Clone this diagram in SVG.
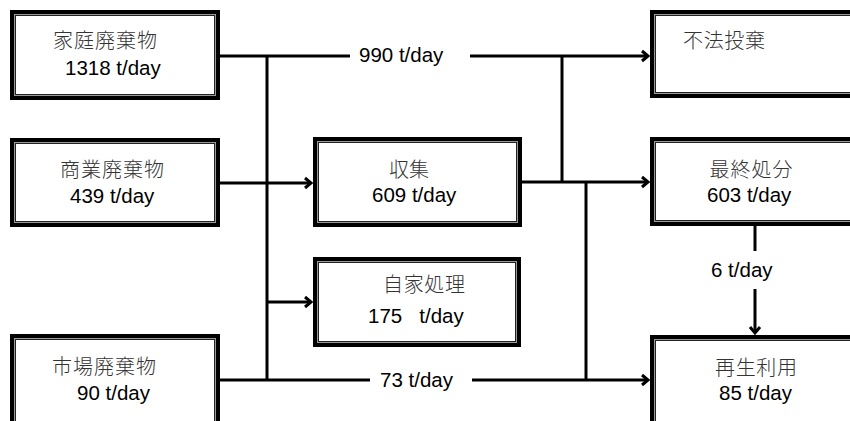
<svg xmlns="http://www.w3.org/2000/svg" width="850" height="421" viewBox="0 0 850 421">
<style>
.outer{fill:#fff;stroke:#000;stroke-width:4}
.inner{fill:none;stroke:#222;stroke-width:1}
.gap{fill:none;stroke:#999;stroke-width:1}
.cjk{font-family:"Noto Sans CJK JP","Noto Sans CJK SC",sans-serif;font-size:20px;fill:#333;font-weight:300}
.num{font-family:"Liberation Sans",Arial,sans-serif;font-size:20.5px;fill:#000}
.ln{fill:none;stroke:#000;stroke-width:3}
</style>
<defs>
<marker id="ah" markerUnits="userSpaceOnUse" markerWidth="14" markerHeight="14" refX="10" refY="6" orient="auto" overflow="visible">
<path d="M4,1 L10,6 L4,11" fill="none" stroke="#000" stroke-width="3" stroke-linejoin="miter"/>
</marker>
</defs>
<g id="connectors">
<path class="ln" d="M220,56 H350"/>
<path class="ln" d="M470,56 H648" marker-end="url(#ah)"/>
<path class="ln" d="M267,56 V380"/>
<path class="ln" d="M220,183 H311" marker-end="url(#ah)"/>
<path class="ln" d="M267,302 H311" marker-end="url(#ah)"/>
<path class="ln" d="M220,380 H370"/>
<path class="ln" d="M472,380 H648" marker-end="url(#ah)"/>
<path class="ln" d="M522,182 H648" marker-end="url(#ah)"/>
<path class="ln" d="M562,56 V182"/>
<path class="ln" d="M586,182 V380"/>
<path class="ln" d="M755,226 V251"/>
<path class="ln" d="M755,289 V333" marker-end="url(#ah)"/>
<text class="num" x="359" y="62">990 t/day</text>
<text class="num" x="380" y="387">73 t/day</text>
<text class="num" x="711" y="277">6 t/day</text>
</g>
<g id="household">
<rect class="outer" x="12" y="12" width="206" height="86"/>
<rect class="gap" x="14.5" y="14.5" width="201" height="81"/>
<rect class="inner" x="15.5" y="15.5" width="199" height="79"/>
<text class="cjk" x="105" y="48" text-anchor="middle" textLength="104">家庭廃棄物</text>
<text class="num" x="65" y="75">1318 t/day</text>
</g>
<g id="commercial">
<rect class="outer" x="12" y="140" width="206" height="85"/>
<rect class="gap" x="14.5" y="142.5" width="201" height="80"/>
<rect class="inner" x="15.5" y="143.5" width="199" height="78"/>
<text class="cjk" x="112" y="177" text-anchor="middle" textLength="104">商業廃棄物</text>
<text class="num" x="70" y="203">439 t/day</text>
</g>
<g id="market">
<rect class="outer" x="12" y="336" width="206" height="100"/>
<rect class="gap" x="14.5" y="338.5" width="201" height="95"/>
<rect class="inner" x="15.5" y="339.5" width="199" height="93"/>
<text class="cjk" x="104" y="374" text-anchor="middle" textLength="104">市場廃棄物</text>
<text class="num" x="77" y="400">90 t/day</text>
</g>
<g id="collection">
<rect class="outer" x="315" y="139" width="205" height="86"/>
<rect class="gap" x="317.5" y="141.5" width="200" height="81"/>
<rect class="inner" x="318.5" y="142.5" width="198" height="79"/>
<text class="cjk" x="409" y="177" text-anchor="middle">収集</text>
<text class="num" x="372" y="202">609 t/day</text>
</g>
<g id="self-treatment">
<rect class="outer" x="315" y="259" width="204" height="86"/>
<rect class="gap" x="317.5" y="261.5" width="199" height="81"/>
<rect class="inner" x="318.5" y="262.5" width="197" height="79"/>
<text class="cjk" x="424" y="292" text-anchor="middle" textLength="82">自家処理</text>
<text class="num" x="368" y="323" xml:space="preserve">175   t/day</text>
</g>
<g id="illegal-dumping">
<rect class="outer" x="652" y="12" width="220" height="84"/>
<rect class="gap" x="654.5" y="14.5" width="215" height="79"/>
<rect class="inner" x="655.5" y="15.5" width="213" height="77"/>
<text class="cjk" x="724" y="48" text-anchor="middle" textLength="82">不法投棄</text>
</g>
<g id="final-disposal">
<rect class="outer" x="652" y="139" width="220" height="85"/>
<rect class="gap" x="654.5" y="141.5" width="215" height="80"/>
<rect class="inner" x="655.5" y="142.5" width="213" height="78"/>
<text class="cjk" x="751" y="177" text-anchor="middle" textLength="83">最終処分</text>
<text class="num" x="707" y="202">603 t/day</text>
</g>
<g id="recycling">
<rect class="outer" x="652" y="337" width="220" height="100"/>
<rect class="gap" x="654.5" y="339.5" width="215" height="95"/>
<rect class="inner" x="655.5" y="340.5" width="213" height="93"/>
<text class="cjk" x="756" y="375" text-anchor="middle" textLength="82">再生利用</text>
<text class="num" x="719" y="400">85 t/day</text>
</g>
</svg>
